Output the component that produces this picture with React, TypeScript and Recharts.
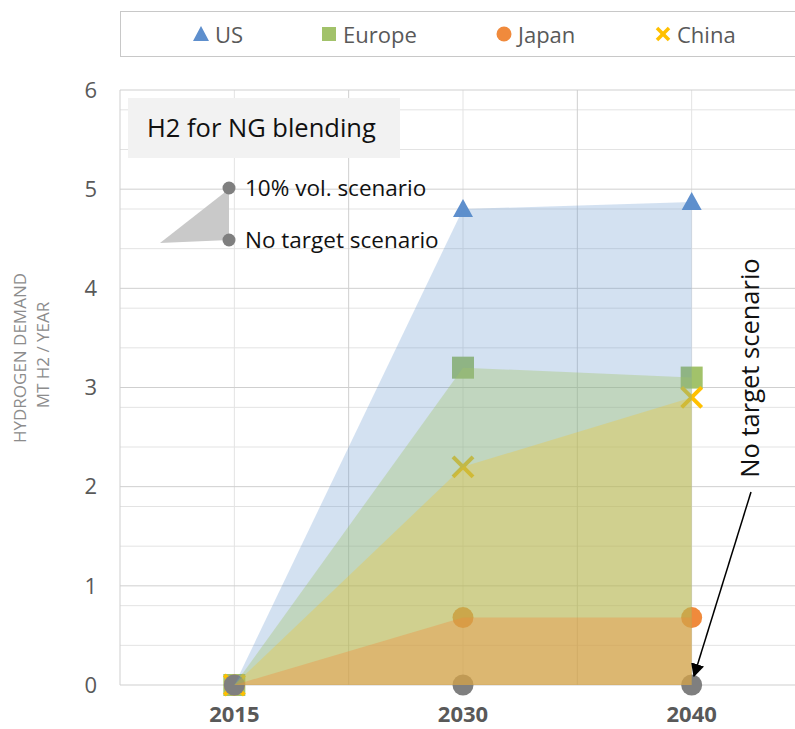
import { CartesianGrid, ComposedChart, Area, Scatter, XAxis, YAxis } from "recharts";

const YEARS = [2015, 2030, 2040];
const X_POS = [1, 2, 3];
const US = [0, 4.8, 4.87];
const EUROPE = [0, 3.2, 3.1];
const CHINA = [0, 2.2, 2.9];
const JAPAN = [0, 0.68, 0.68];
const NO_TARGET = [0, 0, 0];
const Y_TICKS = [0, 1, 2, 3, 4, 5, 6];

const COLORS = {
  us: "#5E8FCD",
  europe: "#A2C26A",
  japan: "#F08A3C",
  china: "#FFC000",
  none: "#7F7F7F",
};

const FONT = "'Open Sans', sans-serif";
const TEXT = "#595959";

const rows = YEARS.map((year, i) => ({
  x: X_POS[i],
  year,
  us: US[i],
  europe: EUROPE[i],
  china: CHINA[i],
  japan: JAPAN[i],
  none: NO_TARGET[i],
}));

// grid: minor every 0.2, major every 1 (like the Excel original)
const minorH = Array.from({ length: 31 }, (_, i) => +(i * 0.2).toFixed(1)).filter((v) => v % 1 !== 0);
const majorV = [0.5, 1.5, 2.5, 3.5];
const minorV = [1, 2, 3];

const Tri = (p: any) => (
  <polygon
    points={`${p.cx},${p.cy - 10} ${p.cx + 10},${p.cy + 8} ${p.cx - 10},${p.cy + 8}`}
    fill={COLORS.us}
  />
);
const Sq = (p: any) => <rect x={p.cx - 11} y={p.cy - 11} width={22} height={22} fill={COLORS.europe} />;
const Dot = (color: string) => (p: any) => <circle cx={p.cx} cy={p.cy} r={10.5} fill={color} />;
const Cross = (p: any) => (
  <g stroke={COLORS.china} strokeWidth={4}>
    <line x1={p.cx - 10} y1={p.cy - 10} x2={p.cx + 10} y2={p.cy + 10} />
    <line x1={p.cx - 10} y1={p.cy + 10} x2={p.cx + 10} y2={p.cy - 10} />
  </g>
);

function LegendBox() {
  const items = [
    { name: "US", x: 192, icon: <polygon points="0,15 8,0 16,15" fill={COLORS.us} /> },
    { name: "Europe", x: 320, icon: <rect x={1} y={1} width={14} height={14} fill={COLORS.europe} /> },
    { name: "Japan", x: 495, icon: <circle cx={8} cy={8} r={7.5} fill={COLORS.japan} /> },
    {
      name: "China",
      x: 654,
      icon: (
        <g stroke={COLORS.china} strokeWidth={3.5}>
          <line x1={2} y1={2} x2={14} y2={14} />
          <line x1={2} y1={14} x2={14} y2={2} />
        </g>
      ),
    },
  ];
  return (
    <div
      style={{
        position: "absolute",
        left: 120,
        top: 11,
        width: 720,
        height: 46,
        border: "1px solid #C8C8C8",
        boxSizing: "border-box",
      }}
    >
      {items.map((it) => (
        <div
          key={it.name}
          style={{
            position: "absolute",
            left: it.x - 120,
            top: 0,
            height: 44,
            display: "flex",
            alignItems: "center",
            gap: 6,
            fontFamily: FONT,
            fontSize: 22,
            color: TEXT,
          }}
        >
          <svg width={16} height={16}>{it.icon}</svg>
          <span>{it.name}</span>
        </div>
      ))}
    </div>
  );
}

function Overlay() {
  return (
    <svg
      width={795}
      height={729}
      style={{ position: "absolute", left: 0, top: 0, pointerEvents: "none" }}
    >
      <defs>
        <marker id="arrow" viewBox="0 0 10 10" refX="9" refY="5" markerWidth="9" markerHeight="9" orient="auto">
          <path d="M0,0 L10,5 L0,10 z" fill="#000" />
        </marker>
      </defs>
      <g fontFamily={FONT} fill="#8C8C8C" fontSize={17} textAnchor="middle">
        <text transform="translate(26,358) rotate(-90)">HYDROGEN DEMAND</text>
        <text transform="translate(49,355) rotate(-90)">MT H2 / YEAR</text>
      </g>
      <rect x={128} y={98} width={272} height={60} fill="#F2F2F2" />
      <text x={147} y={137} fontFamily={FONT} fontSize={25.5} fill="#111">
        H2 for NG blending
      </text>
      <polygon points="160,243 229,189 229,240" fill="#C9C9C9" />
      <circle cx={229} cy={188} r={6.5} fill="#7F7F7F" />
      <circle cx={229} cy={240} r={6.5} fill="#7F7F7F" />
      <g fontFamily={FONT} fontSize={22.5} fill="#111">
        <text x={245} y={196}>10% vol. scenario</text>
        <text x={245} y={248}>No target scenario</text>
      </g>
      <text
        transform="translate(759,368) rotate(-90)"
        fontFamily={FONT}
        fontSize={25.5}
        fill="#111"
        textAnchor="middle"
      >
        No target scenario
      </text>
      <line x1={751} y1={492} x2={694} y2={676} stroke="#000" strokeWidth={1.5} markerEnd="url(#arrow)" />
    </svg>
  );
}

export default function App() {
  return (
    <div
      style={{
        position: "absolute",
        left: 0,
        top: 0,
        width: 795,
        height: 729,
        overflow: "hidden",
        background: "#fff",
      }}
    >
      <LegendBox />
      <ComposedChart
        width={806}
        height={729}
        data={rows}
        margin={{ top: 90, right: 0, bottom: 0, left: 70 }}
      >
        <CartesianGrid stroke="#E3E3E3" horizontalValues={minorH} verticalValues={minorV} />
        <CartesianGrid stroke="#CFCFCF" horizontalValues={Y_TICKS} verticalValues={majorV} />
        <XAxis
          type="number"
          dataKey="x"
          domain={[0.5, 3.5]}
          ticks={X_POS}
          tickFormatter={(v) => String(YEARS[X_POS.indexOf(v)])}
          axisLine={false}
          tickLine={false}
          height={44}
          tickMargin={15}
          tick={{ fill: TEXT, fontSize: 22, fontWeight: 700, fontFamily: FONT }}
        />
        <YAxis
          type="number"
          domain={[0, 6]}
          ticks={Y_TICKS}
          width={50}
          axisLine={false}
          tickLine={false}
          tickMargin={17}
          tick={{ fill: TEXT, fontSize: 22, fontFamily: FONT }}
        />
        <Scatter dataKey="us" shape={Tri} zIndex={100} isAnimationActive={false} />
        <Scatter dataKey="europe" shape={Sq} zIndex={100} isAnimationActive={false} />
        <Scatter dataKey="japan" shape={Dot(COLORS.japan)} zIndex={100} isAnimationActive={false} />
        <Scatter dataKey="china" shape={Cross} zIndex={100} isAnimationActive={false} />
        <Scatter dataKey="none" shape={Dot(COLORS.none)} zIndex={100} isAnimationActive={false} />
        <Area type="linear" dataKey="us" stroke="none" fill={COLORS.us} fillOpacity={0.27} dot={false} activeDot={false} zIndex={700} isAnimationActive={false} />
        <Area type="linear" dataKey="europe" stroke="none" fill={COLORS.europe} fillOpacity={0.37} dot={false} activeDot={false} zIndex={700} isAnimationActive={false} />
        <Area type="linear" dataKey="china" stroke="none" fill={COLORS.china} fillOpacity={0.25} dot={false} activeDot={false} zIndex={700} isAnimationActive={false} />
        <Area type="linear" dataKey="japan" stroke="none" fill={COLORS.japan} fillOpacity={0.36} dot={false} activeDot={false} zIndex={700} isAnimationActive={false} />
      </ComposedChart>
      <Overlay />
    </div>
  );
}
